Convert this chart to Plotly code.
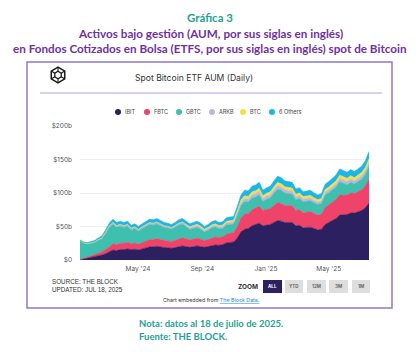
import plotly.graph_objects as go
import pandas as pd
import math

# ---------------- data (US$ billions, weekly, from 2024-01-11) ----------------
dates = pd.date_range("2024-01-11", periods=80, freq="7D")

ibit = [0.5, 1.5, 2.5, 3.5, 4.5, 6, 7.5, 9.5, 12, 15, 14, 15.5, 15.5, 16.5, 15.5, 16, 15, 16.5, 18, 19.5,
        19.5, 20.5, 19.5, 18.5, 18, 17.5, 18.5, 20, 21, 20, 19, 20, 21, 20, 19, 20, 21.5, 22.5, 22, 23,
        25.5, 26.5, 27, 33, 42, 46, 47, 51, 53, 55, 51, 52, 53, 56, 59, 58, 56, 56, 56, 51,
        52, 48, 49, 49, 47, 45, 46, 53, 56, 59, 62, 67, 67, 68, 70, 70, 72, 74, 78, 85]
fbtc = [0.3, 1, 1.8, 2.5, 3.2, 4, 5, 6.2, 7.5, 9.5, 9, 9.6, 9.4, 9.8, 9, 9.2, 8.8, 9.4, 10.2, 11,
        11, 11.5, 11, 10.5, 10.3, 10, 10.6, 11.6, 12.3, 11.7, 10.8, 11.2, 11.7, 11, 10, 10.5, 11.3, 11.8, 11.4, 11.6,
        13, 13.5, 14, 17, 21, 22.5, 22.5, 24, 24.5, 25.5, 23, 23.5, 24, 25.5, 27, 26.5, 25.5, 25.5, 25, 23,
        23.5, 22.5, 23, 23.5, 22.5, 22, 22.5, 25.5, 26.5, 27.5, 28.5, 30.5, 29.5, 29, 30, 29.5, 30, 31, 33, 37]
gbtc = [28.3, 23.0, 19.7, 18.5, 18.3, 19.3, 19.1, 24.0, 29.0, 28.8, 25.8, 25.3, 23.7, 24.1, 20.4, 21.5, 19.3, 20.8, 22.0, 22.4,
        21.5, 21.8, 20.6, 19.4, 19.3, 18.5, 19.6, 20.6, 20.6, 17.7, 15.6, 15.9, 16.0, 15.0, 12.7, 13.8, 14.8, 14.9, 13.1, 12.6,
        13.6, 12.9, 12.6, 16.7, 18.4, 18.7, 16.9, 17.3, 16.4, 16.8, 13.2, 15.3, 15.5, 18.2, 19.7, 19.6, 18.4, 17.4, 17.3, 16.0,
        16.1, 16.3, 15.6, 16.0, 15.6, 15.8, 16.0, 18.4, 17.9, 18.1, 18.4, 19.3, 17.7, 15.4, 16.0, 13.9, 15.0, 15.6, 16.6, 17.8]
arkb = [0.1, 0.3, 0.5, 0.7, 0.9, 1.2, 1.5, 1.9, 2.4, 2.9, 2.7, 2.9, 2.8, 2.9, 2.7, 2.8, 2.6, 2.8, 3.0, 3.1,
        3.0, 3.1, 3.0, 2.9, 2.8, 2.6, 2.7, 2.9, 3.0, 2.8, 2.6, 2.6, 2.7, 2.6, 2.4, 2.5, 2.7, 2.8, 2.7, 2.8,
        3.1, 3.1, 3.2, 3.6, 4.2, 4.5, 4.4, 4.7, 4.8, 5.0, 4.5, 4.6, 4.7, 4.9, 5.1, 5.0, 4.8, 4.8, 4.7, 4.2,
        4.3, 4.0, 4.0, 4.0, 3.8, 3.6, 3.7, 4.1, 4.2, 4.4, 4.6, 4.9, 4.8, 4.7, 4.8, 4.7, 4.8, 4.9, 5.1, 5.6]
btc = [0, 0, 0, 0, 0, 0, 0, 0, 0, 0, 0, 0, 0, 0, 0, 0, 0, 0, 0, 0,
       0, 0, 0, 0, 0, 0, 0, 0, 0, 1.0, 1.5, 1.7, 1.8, 1.8, 1.7, 1.8, 2.0, 2.1, 2.1, 2.2,
       2.5, 2.6, 2.7, 3.2, 3.8, 4.1, 4.1, 4.4, 4.5, 4.6, 4.1, 4.2, 4.3, 4.5, 4.8, 4.7, 4.5, 4.5, 4.4, 4.0,
       4.1, 3.8, 3.9, 3.9, 3.8, 3.6, 3.7, 4.1, 4.2, 4.4, 4.6, 4.9, 4.8, 4.8, 4.9, 4.8, 4.9, 5.0, 5.3, 5.8]
others = [0.8, 1.2, 1.5, 1.8, 2.1, 2.5, 2.9, 3.4, 4.1, 4.8, 4.5, 4.7, 4.6, 4.7, 4.4, 4.5, 4.3, 4.5, 4.8, 5.0,
          5.0, 5.1, 4.9, 4.7, 4.6, 4.4, 4.6, 4.9, 5.1, 4.8, 4.5, 4.6, 4.8, 4.6, 4.2, 4.4, 4.7, 4.9, 4.7, 4.8,
          5.3, 5.4, 5.5, 6.5, 7.6, 8.2, 8.1, 8.6, 8.8, 9.1, 8.2, 8.4, 8.5, 8.9, 9.4, 9.2, 8.8, 8.8, 8.6, 7.8,
          8.0, 7.4, 7.5, 7.6, 7.3, 7.0, 7.1, 7.9, 8.2, 8.6, 8.9, 9.4, 9.2, 9.1, 9.3, 9.1, 9.3, 9.5, 10.0, 10.8]

series_names = ["IBIT", "FBTC", "GBTC", "ARKB", "BTC", "6 Others"]
series_vals = [ibit, fbtc, gbtc, arkb, btc, others]
series_colors = ["#2c2060", "#f0436a", "#3fc0ae", "#bdb6df", "#f5e04a", "#1ab6e8"]

y_tickvals = [0, 50, 100, 150, 200]
y_ticktext = ["$0", "$50b", "$100b", "$150b", "$200b"]
x_tickvals = ["2024-05-01", "2024-09-01", "2025-01-01", "2025-05-01"]
x_ticktext = ["May '24", "Sep '24", "Jan '25", "May '25"]
zoom_buttons = ["ALL", "YTD", "12M", "3M", "1M"]

# ---------------- layout geometry (pixels) ----------------
W, H = 420, 352
L, R, T, B = 80, 369, 126, 260


def px(x):
    return (x - L) / (R - L)


def py(y):
    return (B - y) / (B - T)


fig = go.Figure()
for name, vals, col in zip(series_names, series_vals, series_colors):
    fig.add_trace(go.Scatter(
        x=dates, y=vals, name=name, mode="lines", stackgroup="one",
        line=dict(width=0.6, color=col), fillcolor=col, hoverinfo="skip",
        showlegend=False))

shapes = []
ann = []

# outer frame
shapes.append(dict(type="rect", xref="paper", yref="paper",
                   x0=px(27), x1=px(392), y0=py(308), y1=py(62),
                   line=dict(color="#8f79c6", width=1.5), fillcolor="rgba(0,0,0,0)", layer="below"))
# separator under chart title
shapes.append(dict(type="line", xref="paper", yref="paper",
                   x0=px(40), x1=px(382), y0=py(93), y1=py(93),
                   line=dict(color="#cdbfea", width=1.5)))

# logo (hexagon cube)
cx, cy, r1, r2 = 58, 75, 7.8, 3.7
outer = [(cx + r1 * math.cos(math.radians(a)), cy + r1 * math.sin(math.radians(a))) for a in range(-90, 270, 60)]
inner = [(cx + r2 * math.cos(math.radians(a)), cy + r2 * math.sin(math.radians(a))) for a in range(-90, 270, 60)]


def poly(pts):
    return "M " + " L ".join(f"{px(x):.5f},{py(y):.5f}" for x, y in pts) + " Z"


shapes.append(dict(type="path", xref="paper", yref="paper", path=poly(outer),
                   line=dict(color="#1a1a1a", width=1.5)))
shapes.append(dict(type="path", xref="paper", yref="paper", path=poly(inner),
                   line=dict(color="#1a1a1a", width=1.3)))
for (ox, oy), (ix, iy) in zip(outer, inner):
    shapes.append(dict(type="line", xref="paper", yref="paper",
                       x0=px(ox), y0=py(oy), x1=px(ix), y1=py(iy),
                       line=dict(color="#1a1a1a", width=1.1)))

ann.append(dict(x=px(194), y=py(78), text="Spot Bitcoin ETF AUM (Daily)",
                font=dict(size=8.6, color="#333333", family="Inter")))

# legend
leg_x = [118, 147, 179, 212, 243, 272]
for lx, name, col in zip(leg_x, series_names, series_colors):
    shapes.append(dict(type="circle", xref="paper", yref="paper",
                       x0=px(lx - 3), x1=px(lx + 3), y0=py(112 + 3), y1=py(112 - 3),
                       fillcolor=col, line=dict(width=0)))
    ann.append(dict(x=px(lx + 5), y=py(112), text=name, xanchor="left",
                    font=dict(size=5.5, color="#444444", family="Inter")))

# source
ann.append(dict(x=px(50), y=py(285), text="SOURCE: THE BLOCK<br>UPDATED: JUL 18, 2025",
                xanchor="left", align="left",
                font=dict(size=6.3, color="#333333", family="Liberation Sans")))

# zoom buttons
ann.append(dict(x=px(260), y=py(287), text="<b>ZOOM</b>", xanchor="right",
                font=dict(size=6.5, color="#333333", family="Inter")))
btn_x = [(263, 282), (285, 303), (307, 326), (329, 348), (352, 370)]
for (bx0, bx1), lab in zip(btn_x, zoom_buttons):
    active = lab == "ALL"
    shapes.append(dict(type="rect", xref="paper", yref="paper",
                       x0=px(bx0), x1=px(bx1), y0=py(293), y1=py(280),
                       fillcolor="#2c2060" if active else "#dedede", line=dict(width=0)))
    ann.append(dict(x=px((bx0 + bx1) / 2), y=py(286.5), text=f"<b>{lab}</b>",
                    font=dict(size=4.5, color="#ffffff" if active else "#666666", family="Inter")))

ann.append(dict(x=px(211), y=py(300),
                text="Chart embedded from <span style='color:#1e88e5'><u>The Block Data.</u></span>",
                font=dict(size=5.3, color="#333333", family="Inter")))

# outer titles
TEAL = "#24a192"
PURPLE = "#7030a0"
ann.append(dict(x=px(210), y=py(17), text="<b>Gráfica 3</b>",
                font=dict(size=11.5, color=TEAL, family="Lato")))
ann.append(dict(x=px(210), y=py(33), text="<b>Activos bajo gestión (AUM, por sus siglas en inglés)</b>",
                font=dict(size=11.7, color=PURPLE, family="Lato")))
ann.append(dict(x=px(210), y=py(48),
                text="<b>en Fondos Cotizados en Bolsa (ETFS, por sus siglas en inglés) spot de Bitcoin</b>",
                font=dict(size=11.7, color=PURPLE, family="Lato")))
ann.append(dict(x=px(137), y=py(323), text="<b>Nota: datos al 18 de julio de 2025.</b>", xanchor="left",
                font=dict(size=9.5, color=TEAL, family="Lato")))
ann.append(dict(x=px(137), y=py(336), text="<b>Fuente: THE BLOCK.</b>", xanchor="left",
                font=dict(size=9.5, color=TEAL, family="Lato")))

for a in ann:
    a.setdefault("xref", "paper")
    a.setdefault("yref", "paper")
    a.setdefault("showarrow", False)
    a.setdefault("yanchor", "middle")
    a.setdefault("xanchor", "center")

fig.update_layout(
    width=W, height=H, autosize=False,
    margin=dict(l=L, r=W - R, t=T, b=H - B, pad=0),
    paper_bgcolor="white", plot_bgcolor="white",
    showlegend=False, hovermode=False,
    shapes=shapes, annotations=ann,
    xaxis=dict(range=[dates[0], dates[-1]], tickvals=x_tickvals, ticktext=x_ticktext,
               showgrid=False, zeroline=False, showline=False, ticks="",
               ticklabelstandoff=3,
               tickfont=dict(size=6.5, color="#555555", family="Inter")),
    yaxis=dict(range=[0, 200], tickvals=y_tickvals, ticktext=y_ticktext,
               showgrid=True, gridcolor="#eeeeee", gridwidth=1, zeroline=False, showline=False,
               ticks="", ticklabelstandoff=7,
               tickfont=dict(size=6.5, color="#555555", family="Inter")),
)

fig.write_html("out.html", config={"displayModeBar": False})
